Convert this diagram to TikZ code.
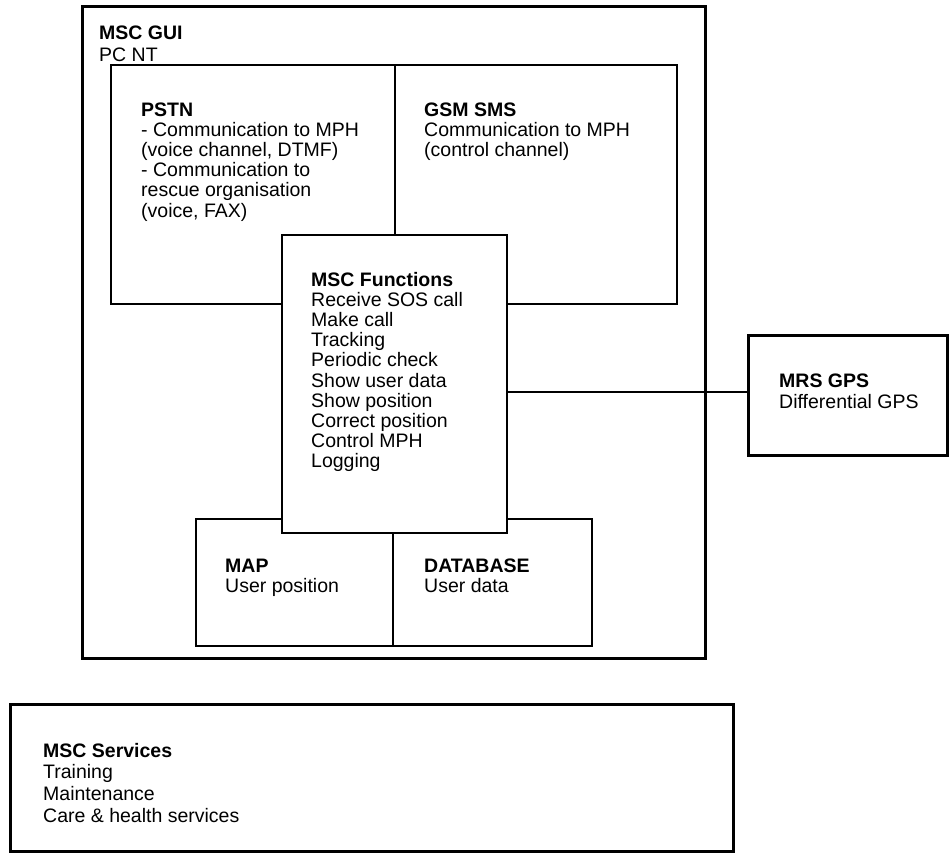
\documentclass[tikz,border=0pt]{standalone}
\usepackage{fontspec}
\setmainfont{Liberation Sans}
\usetikzlibrary{fit}
\begin{document}
\begin{tikzpicture}[x=1pt,y=-1pt,
  thickbox/.style={draw=black, line width=3pt, inner sep=0pt},
  thinbox/.style={draw=black, line width=1.2pt, inner sep=0pt},
  frontbox/.style={thinbox, fill=white},
  conn/.style={draw=black, line width=1.2pt},
  txt/.style={anchor=base west, inner sep=0pt, font=\fontsize{19.5}{19.8}\selectfont},
  txtwide/.style={anchor=base west, inner sep=0pt, font=\fontsize{19.5}{21.7}\selectfont}
]
\useasboundingbox (0,0) rectangle (949,856);

% outer GUI box
\node[thickbox, fit={(82,7) (705,658)}] (gui) {};
\node[txtwide] (tgui) at (99,40) {\begin{tabular}[t]{@{}l@{}}\textbf{MSC GUI}\\PC NT\end{tabular}};

% PSTN and GSM
\node[thinbox, fit={(111,65) (394.5,304)}] (pstn) {};
\node[thinbox, fit={(395.5,65) (677,304)}] (gsm) {};
\node[txt] (tpstn) at (141,116.7) {\begin{tabular}[t]{@{}l@{}}\textbf{PSTN}\\- Communication to MPH\\(voice channel, DTMF)\\- Communication to\\rescue organisation\\(voice, FAX)\end{tabular}};
\node[txt] (tgsm) at (424,116.5) {\begin{tabular}[t]{@{}l@{}}\textbf{GSM SMS}\\Communication to MPH\\(control channel)\end{tabular}};

% MAP and DATABASE
\node[thinbox, fit={(196,519) (392.5,646)}] (map) {};
\node[thinbox, fit={(393.5,519) (592,646)}] (db) {};
\node[txt] (tmap) at (225,572) {\begin{tabular}[t]{@{}l@{}}\textbf{MAP}\\User position\end{tabular}};
\node[txt] (tdb) at (424,572) {\begin{tabular}[t]{@{}l@{}}\textbf{DATABASE}\\User data\end{tabular}};

% MSC Functions (in front)
\node[frontbox, fit={(282,235) (507,533)}] (func) {};
\node[txt] (tfunc) at (311,286.7) {\begin{tabular}[t]{@{}l@{}}\textbf{MSC Functions}\\Receive SOS call\\Make call\\Tracking\\Periodic check\\Show user data\\Show position\\Correct position\\Control MPH\\Logging\end{tabular}};

% MRS GPS
\node[thickbox, fit={(748,335) (947,455)}] (mrs) {};
\node[txtwide] (tmrs) at (779,387) {\begin{tabular}[t]{@{}l@{}}\textbf{MRS GPS}\\Differential GPS\end{tabular}};

% connector
\draw[conn] ([yshift=3pt]mrs.west -| func.east) -- ([yshift=3pt]mrs.west);

% MSC Services
\node[thickbox, fit={(10,704) (733,851)}] (svc) {};
\node[txtwide] (tsvc) at (43,757) {\begin{tabular}[t]{@{}l@{}}\textbf{MSC Services}\\Training\\Maintenance\\Care \& health services\end{tabular}};
\end{tikzpicture}
\end{document}
